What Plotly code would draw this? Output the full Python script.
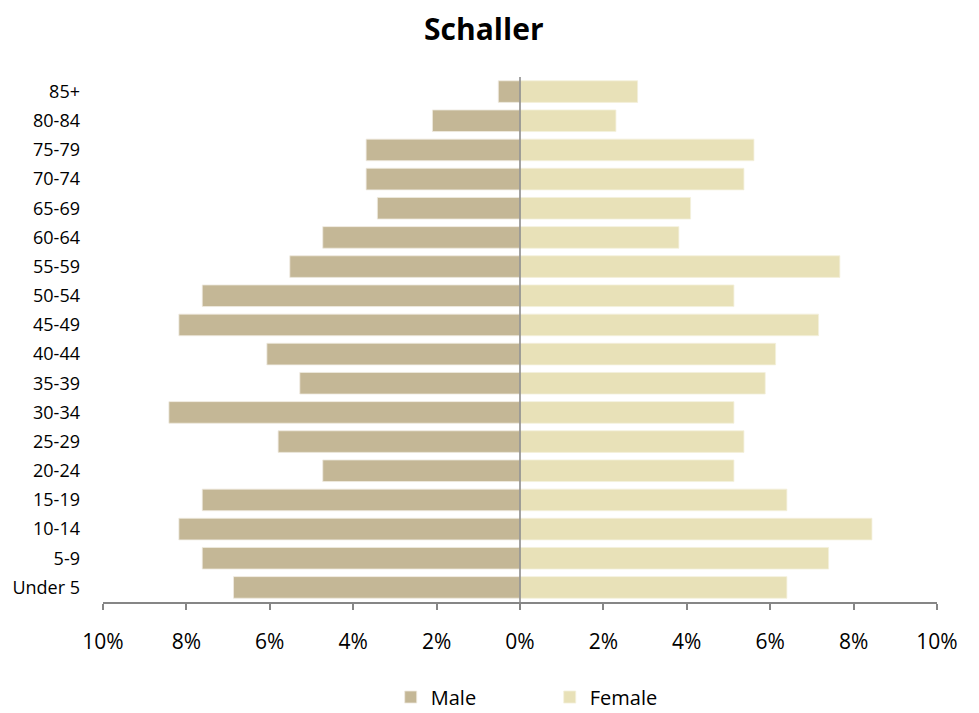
import plotly.graph_objects as go

age_groups = ["Under 5", "5-9", "10-14", "15-19", "20-24", "25-29", "30-34", "35-39",
              "40-44", "45-49", "50-54", "55-59", "60-64", "65-69", "70-74", "75-79",
              "80-84", "85+"]
male_pct = [6.87, 7.62, 8.18, 7.62, 4.73, 5.80, 8.42, 5.28,
            6.07, 8.18, 7.62, 5.52, 4.73, 3.42, 3.69, 3.69, 2.10, 0.52]
female_pct = [6.40, 7.40, 8.44, 6.40, 5.13, 5.37, 5.13, 5.88,
              6.13, 7.16, 5.13, 7.67, 3.81, 4.09, 5.37, 5.61, 2.30, 2.82]
tick_vals = [-10, -8, -6, -4, -2, 0, 2, 4, 6, 8, 10]
tick_text = ["10%", "8%", "6%", "4%", "2%", "0%", "2%", "4%", "6%", "8%", "10%"]

male_color = "#C4B796"
female_color = "#E8E1B8"
axis_color = "#868686"

fig = go.Figure()
fig.add_trace(go.Bar(
    y=age_groups, x=[-v for v in male_pct], name="Male", orientation="h",
    marker=dict(color=male_color, line=dict(color="#EFEAE0", width=0.8)),
    customdata=male_pct, hovertemplate="%{y}: %{customdata}%<extra>Male</extra>",
))
fig.add_trace(go.Bar(
    y=age_groups, x=female_pct, name="Female", orientation="h",
    marker=dict(color=female_color, line=dict(color="#F4F0DC", width=0.8)),
    hovertemplate="%{y}: %{x}%<extra>Female</extra>",
))

font_family = "Open Sans, Liberation Sans, sans-serif"

# vertical axis line at 0%, drawn above the bars
fig.add_shape(type="line", xref="x", yref="paper", x0=0, x1=0, y0=0, y1=1,
              line=dict(color=axis_color, width=1.5), layer="above")

# page has an 8px body margin; the figure is sized to compensate
fig.update_layout(
    width=971, height=705,
    barmode="overlay", bargap=0.26,
    paper_bgcolor="white", plot_bgcolor="white",
    margin=dict(l=95, r=42, t=69, b=111, autoexpand=False),
    title=dict(text="<b>Schaller</b>", x=0.49, xanchor="center", y=0.97, yanchor="middle",
               font=dict(family=font_family, size=30, color="#000000")),
    font=dict(family=font_family, color="#000000"),
    legend=dict(orientation="h", x=0.345, xanchor="left", y=-0.181, yanchor="middle",
                font=dict(size=20), entrywidth=114, traceorder="normal"),
    showlegend=True,
)
fig.update_xaxes(
    range=[-10, 10], tickvals=tick_vals, ticktext=tick_text,
    showgrid=False, zeroline=False,
    showline=True, linecolor=axis_color, linewidth=1.5,
    ticks="outside", ticklen=6, tickcolor=axis_color, tickwidth=1.5,
    ticklabelstandoff=14, layer="above traces", automargin=False,
    tickfont=dict(size=21, color="#000000"), fixedrange=True,
)
fig.update_yaxes(
    categoryorder="array", categoryarray=age_groups,
    showgrid=False, zeroline=False, showline=False, ticks="",
    ticklabelstandoff=22, automargin=False,
    tickfont=dict(size=18, color="#000000"), fixedrange=True,
)

fig.write_html("out.html")
